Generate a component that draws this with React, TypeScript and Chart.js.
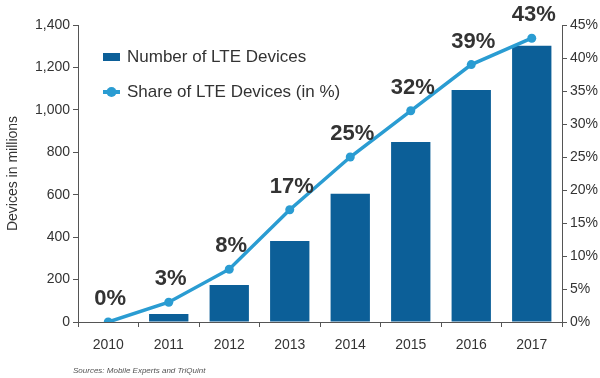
import React, { useEffect, useRef } from "react";
import { Chart, registerables } from "chart.js";

Chart.register(...registerables);

const years = ["2010", "2011", "2012", "2013", "2014", "2015", "2016", "2017"];
const lteDevices = [0, 38, 175, 382, 604, 849, 1094, 1302];
const lteShare = [0, 3, 8, 17, 25, 32, 39, 43];
const shareLabels = ["0%", "3%", "8%", "17%", "25%", "32%", "39%", "43%"];
const legendNames = ["Number of LTE Devices", "Share of LTE Devices (in %)"];
const yTitle = "Devices in millions";
const sourceText = "Sources: Mobile Experts and TriQuint";

const BAR_COLOR = "#0c5f98";
const LINE_COLOR = "#2a9cd2";
const TEXT_COLOR = "#333333";
const FONT = "'Liberation Sans', Arial, sans-serif";

const overlayPlugin = {
  id: "overlay",
  afterDatasetsDraw(chart: any) {
    const ctx = chart.ctx;
    const area = chart.chartArea;
    const meta = chart.getDatasetMeta(1);
    ctx.save();
    // point labels
    ctx.font = `bold 22px ${FONT}`;
    ctx.fillStyle = TEXT_COLOR;
    ctx.textAlign = "center";
    ctx.textBaseline = "middle";
    meta.data.forEach((pt: any, i: number) => {
      ctx.fillText(shareLabels[i], pt.x + 2, pt.y - 23);
    });
    // legend
    const lx = area.left + 25;
    ctx.fillStyle = BAR_COLOR;
    ctx.fillRect(lx, 53, 17, 8);
    ctx.font = `17px ${FONT}`;
    ctx.fillStyle = TEXT_COLOR;
    ctx.textAlign = "left";
    ctx.fillText(legendNames[0], lx + 24, 57);
    ctx.strokeStyle = LINE_COLOR;
    ctx.lineWidth = 4;
    ctx.beginPath();
    ctx.moveTo(lx, 92);
    ctx.lineTo(lx + 17, 92);
    ctx.stroke();
    ctx.fillStyle = LINE_COLOR;
    ctx.beginPath();
    ctx.arc(lx + 8.5, 92, 5, 0, Math.PI * 2);
    ctx.fill();
    ctx.fillStyle = TEXT_COLOR;
    ctx.fillText(legendNames[1], lx + 24, 92);
    // source
    ctx.font = `italic 8px ${FONT}`;
    ctx.fillStyle = "#555555";
    ctx.fillText(sourceText, 73, 371);
    ctx.restore();
  },
};

export default function App() {
  const ref = useRef<HTMLCanvasElement | null>(null);
  useEffect(() => {
    document.body.style.margin = "0";
    const chart = new Chart(ref.current as HTMLCanvasElement, {
      type: "bar",
      data: {
        labels: years,
        datasets: [
          {
            type: "bar",
            label: legendNames[0],
            data: lteDevices,
            backgroundColor: BAR_COLOR,
            yAxisID: "y",
            categoryPercentage: 1,
            barPercentage: 0.65,
            order: 1,
          },
          {
            type: "line",
            label: legendNames[1],
            data: lteShare,
            borderColor: LINE_COLOR,
            backgroundColor: LINE_COLOR,
            borderWidth: 3.5,
            pointRadius: 4.5,
            pointBackgroundColor: LINE_COLOR,
            pointBorderWidth: 0,
            tension: 0,
            yAxisID: "y1",
            order: 0,
          } as any,
        ],
      },
      options: {
        responsive: false,
        animation: false,
        layout: { padding: { top: 25, right: 0, left: 0, bottom: 0 } },
        plugins: { legend: { display: false }, tooltip: { enabled: false } },
        scales: {
          x: {
            grid: { display: true, drawOnChartArea: false, offset: true, tickLength: 5, color: "#555" },
            border: { color: "#555", width: 1 },
            ticks: { color: TEXT_COLOR, font: { size: 14, family: FONT }, padding: 10 },
            afterFit: (s: any) => { s.height = 56; },
          },
          y: {
            position: "left",
            min: 0,
            max: 1400,
            ticks: {
              stepSize: 200,
              color: TEXT_COLOR,
              font: { size: 14, family: FONT },
              padding: 3,
              callback: (v: any) => Number(v).toLocaleString("en-US"),
            },
            grid: { drawOnChartArea: false, tickLength: 5, color: "#555" },
            border: { color: "#555", width: 1 },
            title: { display: true, text: yTitle, color: TEXT_COLOR, font: { size: 14, family: FONT }, padding: { top: 5, bottom: 0 } },
            afterFit: (s: any) => { s.width = 78; },
          },
          y1: {
            position: "right",
            min: 0,
            max: 45,
            ticks: {
              stepSize: 5,
              color: TEXT_COLOR,
              font: { size: 14, family: FONT },
              padding: 3,
              callback: (v: any) => v + "%",
            },
            grid: { drawOnChartArea: false, tickLength: 5, color: "#555" },
            border: { color: "#555", width: 1 },
            afterFit: (s: any) => { s.width = 38; },
          },
        },
      },
      plugins: [overlayPlugin],
    } as any);
    return () => chart.destroy();
  }, []);
  return <canvas ref={ref} width={600} height={378} style={{ display: "block" }} />;
}
